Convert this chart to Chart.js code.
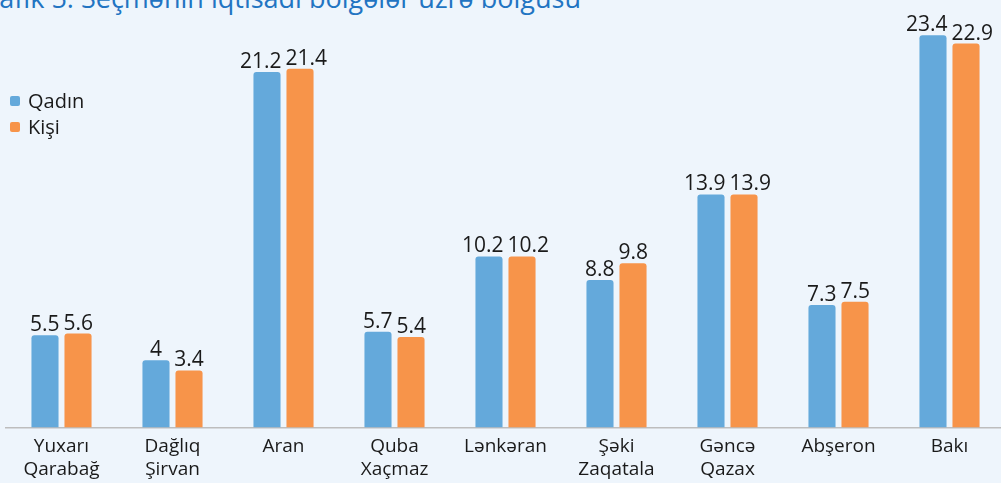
<!DOCTYPE html>
<html>
<head>
<meta charset="utf-8">
<script src="https://cdn.jsdelivr.net/npm/chart.js@4"></script>
<style>
  html, body { margin: 0; padding: 0; background: #eef5fc; }
  body { width: 1001px; height: 483px; position: relative; overflow: hidden; font-family: 'Open Sans', sans-serif; }
  #title { position: absolute; top: -21px; right: 420px; white-space: nowrap; font-size: 27px; color: #2274c2; }
  #wrap { position: absolute; left: 0; top: 0; width: 1005px; height: 491px; }
  .leg { position: absolute; left: 10px; font-size: 20px; color: #1a1a1a; display: flex; align-items: center; }
  .leg i { display: inline-block; width: 10px; height: 10px; border-radius: 2px; margin-right: 8px; }
</style>
</head>
<body>
<div id="title">Qrafik 5. Seçmənin iqtisadi bölgələr üzrə bölgüsü</div>
<div id="wrap"><canvas id="chart"></canvas></div>
<div class="leg" style="top:87px"><i style="background:#64a9db"></i>Qadın</div>
<div class="leg" style="top:113px"><i style="background:#f7944a"></i>Kişi</div>
<script>
/* Seçmənin bölgələr üzrə bölgüsü — Qadın / Kişi */
const REGIONS = [['Yuxarı', 'Qarabağ'], ['Dağlıq', 'Şirvan'], 'Aran', ['Quba', 'Xaçmaz'], 'Lənkəran', ['Şəki', 'Zaqatala'], ['Gəncə', 'Qazax'], 'Abşeron', 'Bakı'];
const QADIN = [5.5, 4, 21.2, 5.7, 10.2, 8.8, 13.9, 7.3, 23.4];
const KISI = [5.6, 3.4, 21.4, 5.4, 10.2, 9.8, 13.9, 7.5, 22.9];

const COLORS = { qadin: '#64a9db', kisi: '#f7944a' };

// value labels over each bar, pushed apart when the pair would touch
const valueLabels = {
  id: 'valueLabels',
  afterDatasetsDraw(chart) {
    const ctx = chart.ctx;
    ctx.save();
    ctx.font = '21px "Open Sans"';
    ctx.fillStyle = '#1a1a1a';
    ctx.textAlign = 'center';
    ctx.textBaseline = 'alphabetic';
    const m0 = chart.getDatasetMeta(0).data, m1 = chart.getDatasetMeta(1).data;
    const d0 = chart.data.datasets[0].data, d1 = chart.data.datasets[1].data;
    m0.forEach((b0, j) => {
      const b1 = m1[j];
      const t0 = String(d0[j]), t1 = String(d1[j]);
      const w0 = ctx.measureText(t0).width, w1 = ctx.measureText(t1).width;
      let x0 = b0.x, x1 = b1.x;
      const overlap = (x0 + w0 / 2 + 4) - (x1 - w1 / 2);
      if (overlap > 0 && Math.abs(b0.y - b1.y) < 20) { x0 -= overlap / 2; x1 += overlap / 2; }
      ctx.fillText(t0, x0, b0.y - 4);
      ctx.fillText(t1, x1, b1.y - 4);
    });
    ctx.restore();
  }
};

new Chart(document.getElementById('chart').getContext('2d'), {
  type: 'bar',
  data: {
    labels: REGIONS,
    datasets: [
      { label: 'Qadın', data: QADIN, backgroundColor: COLORS.qadin, borderRadius: { topLeft: 3, topRight: 3 }, borderSkipped: 'bottom' },
      { label: 'Kişi', data: KISI, backgroundColor: COLORS.kisi, borderRadius: { topLeft: 3, topRight: 3 }, borderSkipped: 'bottom' }
    ]
  },
  options: {
    responsive: true, maintainAspectRatio: false, animation: false,
    categoryPercentage: 0.595, barPercentage: 0.82,
    layout: { padding: { left: 6, right: 0, top: 0, bottom: 2 } },
    plugins: { legend: { display: false }, tooltip: { enabled: false } },
    scales: {
      y: { min: 0, max: 25.5, display: false, grid: { display: false } },
      x: {
        grid: { display: false, drawTicks: false },
        border: { display: true, color: '#bdbdbd', width: 1.5 },
        ticks: { color: '#1a1a1a', font: { family: 'Open Sans', size: 19, lineHeight: 1.2 }, padding: 8, maxRotation: 0, autoSkip: false }
      }
    }
  },
  plugins: [valueLabels]
});
</script>
</body>
</html>
